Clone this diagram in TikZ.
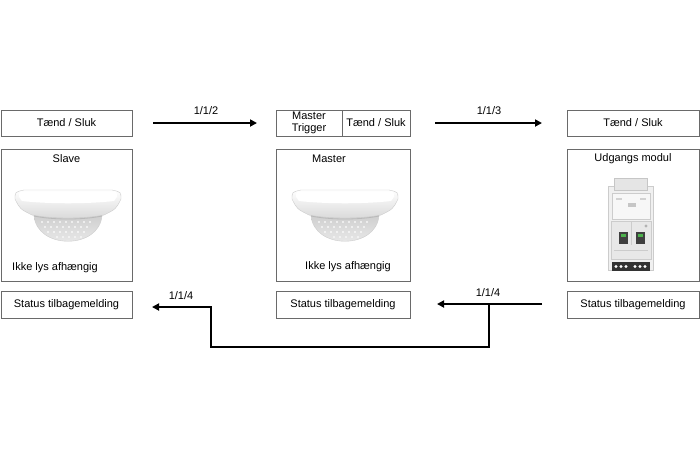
\documentclass[tikz,border=0pt]{standalone}
\usepackage{fontspec}
\setmainfont{Liberation Sans}
\usetikzlibrary{arrows.meta}
\definecolor{boxline}{HTML}{6A6A6A}
\tikzset{
  box/.style={draw=boxline, line width=0.9pt, fill=white},
  lbl/.style={font=\fontsize{11}{12.5}\selectfont, inner sep=0pt},
  conn/.style={line width=1.8pt, -{Triangle[length=7pt,width=7pt]}},
}
\newcommand{\sensorshape}[2]{%
  \begin{scope}[shift={(#1,#2)}]
    % dome
    \shade[top color=gray!38, bottom color=gray!12, draw=gray!40, line width=0.4pt]
      (-34,25) .. controls (-32,60) and (32,60) .. (34,25) -- cycle;
    \foreach \i in {-26,-20,...,26}{\fill[white,opacity=0.8] (\i,32) circle (1.2pt);}
    \foreach \i in {-23,-17,...,23}{\fill[white,opacity=0.8] (\i,37) circle (1.2pt);}
    \foreach \i in {-20,-14,...,20}{\fill[white,opacity=0.8] (\i,42) circle (1.2pt);}
    \foreach \i in {-11,-5,...,13}{\fill[white,opacity=0.7] (\i,47) circle (1.2pt);}
    % flange
    \shade[top color=white, bottom color=gray!30, draw=gray!40, line width=0.4pt]
      (-53,9) .. controls (-53,2) .. (-44,0) -- (44,0) .. controls (53,2) .. (53,9)
      .. controls (48,19) .. (36,25) .. controls (15,29) and (-15,29) .. (-36,25)
      .. controls (-48,19) .. (-53,9) -- cycle;
    \fill[white] (-48,2) -- (48,2) .. controls (50,6) .. (46,11) .. controls (20,14) and (-20,14) .. (-46,11) .. controls (-50,6) .. (-48,2) -- cycle;
    \draw[gray!55, line width=0.8pt] (-34,26) .. controls (-15,30) and (15,30) .. (34,26);
  \end{scope}}
\begin{document}
\begin{tikzpicture}[x=1pt,y=-1pt]
\useasboundingbox[fill=white] (0,0) rectangle (700,451);

% left column
\node[box, minimum width=131pt, minimum height=26pt, lbl] (l1) at (66.5,123) {Tænd / Sluk};
\draw[box] (1,149) rectangle (132,281);
\node[lbl] (slave) at (66.5,159) {Slave};
\sensorshape{68}{190}
\node[lbl, anchor=west] (lik) at (12,268) {Ikke lys afhængig};
\node[box, minimum width=131pt, minimum height=27pt, lbl] (l3) at (66.5,305) {Status tilbagemelding};

% middle column
\node[box, minimum width=66pt, minimum height=26pt, lbl, align=center, font=\fontsize{11}{12.5}\selectfont] (mt) at (309,123) {Master\\Trigger};
\node[box, minimum width=68pt, minimum height=26pt, lbl] (m1) at (376,123) {Tænd / Sluk};
\draw[box] (276,149) rectangle (410,281);
\node[lbl] (master) at (329,159) {Master};
\sensorshape{345}{190}
\node[lbl, anchor=west] (mik) at (305,267) {Ikke lys afhængig};
\node[box, minimum width=134pt, minimum height=27pt, lbl] (m3) at (343,305) {Status tilbagemelding};

% right column
\node[box, minimum width=132pt, minimum height=26pt, lbl] (r1) at (633,123) {Tænd / Sluk};
\draw[box] (567,149) rectangle (699,281);
\node[lbl] (udg) at (633,159) {Udgangs modul};
% output module
\begin{scope}
  \fill[gray!12, draw=gray!40, line width=0.4pt] (608,186) rectangle (653,270);
  \fill[gray!20, draw=gray!45, line width=0.4pt] (614,178) rectangle (647,190);
  \fill[gray!6, draw=gray!40, line width=0.4pt] (612,193) rectangle (650,219);
  \fill[gray!45] (628,203) rectangle (636,207);
  \fill[gray!35] (616,198) rectangle (622,200);
  \fill[gray!35] (640,198) rectangle (646,200);
  \fill[gray!18, draw=gray!40, line width=0.4pt] (611,221) rectangle (651,259);
  \draw[gray!40, line width=0.4pt] (631,221) -- (631,245);
  \fill[gray!60] (646,226) circle (1.6pt);
  \fill[black!75] (619,232) rectangle (628,244);
  \fill[black!75] (636,232) rectangle (645,244);
  \fill[green!40!gray] (621,234) rectangle (626,237);
  \fill[green!40!gray] (638,234) rectangle (643,237);
  \draw[gray!40, line width=0.4pt] (614,250) -- (648,250);
  \fill[black!80] (612,262) rectangle (650,271);
  \foreach \x in {616,621,626,635,640,645}{\fill[white] (\x,266.5) circle (1.6pt);}
\end{scope}
\node[box, minimum width=132pt, minimum height=27pt, lbl] (r3) at (633,305) {Status tilbagemelding};

% connectors
\coordinate (a1s) at (153,123);
\coordinate (a1e) at (257,123);
\draw[conn] (a1s) -- (a1e);
\node[lbl] (t112) at (206,111) {1/1/2};

\coordinate (a2s) at (435,123);
\coordinate (a2e) at (542,123);
\draw[conn] (a2s) -- (a2e);
\node[lbl] (t113) at (489,111) {1/1/3};

\coordinate (b1s) at (542,304);
\coordinate (b1e) at (437,304);
\coordinate (bj) at (489,304);
\coordinate (bjd) at (489,347);
\coordinate (bl) at (211,347);
\coordinate (blu) at (211,307);
\coordinate (b2e) at (152,307);
\draw[conn] (b1s) -- (b1e);
\draw[conn, line join=miter] (bj) -- (bjd) -- (bl) -- (blu) -- (b2e);
\node[lbl] (t114r) at (488,293) {1/1/4};
\node[lbl] (t114l) at (181,296) {1/1/4};
\end{tikzpicture}
\end{document}
